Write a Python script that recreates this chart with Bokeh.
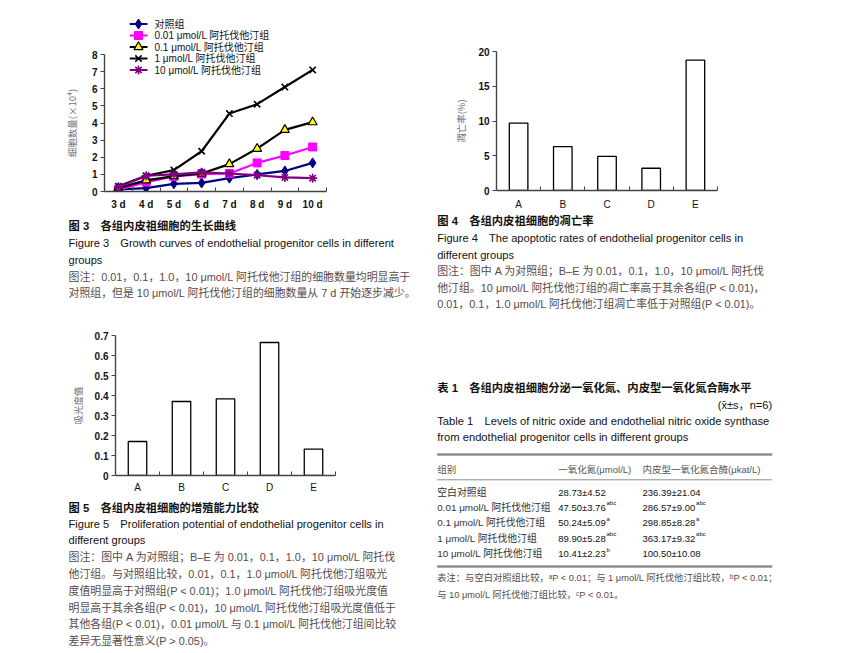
from bokeh.plotting import figure
from bokeh.models import (Range1d, FixedTicker, CustomJSTickFormatter, NumeralTickFormatter)
from bokeh.core.properties import value
from bokeh.embed import file_html
from bokeh.resources import INLINE

FONT = "'Liberation Sans', 'Noto Sans CJK SC', sans-serif"
CJK = "'Noto Sans CJK SC', sans-serif"

# ---------------- data ----------------
days = ["3 d", "4 d", "5 d", "6 d", "7 d", "8 d", "9 d", "10 d"]
growth_names = ["对照组", "0.01 μmol/L 阿托伐他汀组", "0.1 μmol/L 阿托伐他汀组",
                "1 μmol/L 阿托伐他汀组", "10 μmol/L 阿托伐他汀组"]
growth_control = [0.12, 0.2, 0.45, 0.5, 0.78, 1.0, 1.2, 1.67]
growth_001 = [0.1, 0.55, 0.88, 1.02, 1.05, 1.67, 2.1, 2.6]
growth_01 = [0.2, 0.65, 0.9, 1.05, 1.6, 2.5, 3.6, 4.05]
growth_1 = [0.3, 0.92, 1.25, 2.35, 4.55, 5.1, 6.1, 7.1]
growth_10 = [0.25, 0.92, 1.0, 1.12, 1.05, 0.95, 0.82, 0.78]
growth_ticks = [0, 1, 2, 3, 4, 5, 6, 7, 8]

groups = ["A", "B", "C", "D", "E"]
apoptosis = [9.7, 6.3, 4.9, 3.2, 18.75]
apoptosis_ticks = [0, 5, 10, 15, 20]
absorbance = [0.17, 0.37, 0.383, 0.665, 0.132]
absorbance_ticks = [0, 0.1, 0.2, 0.3, 0.4, 0.5, 0.6, 0.7]

table_groups = ["空白对照组", "0.01 μmol/L 阿托伐他汀组", "0.1 μmol/L 阿托伐他汀组",
                "1 μmol/L 阿托伐他汀组", "10 μmol/L 阿托伐他汀组"]
no_vals = ["28.73±4.52", "47.50±3.76", "50.24±5.09", "89.90±5.28", "10.41±2.23"]
no_sup = ["", "abc", "a", "abc", "b"]
enos_vals = ["236.39±21.04", "286.57±9.00", "298.85±8.28", "363.17±9.32", "100.50±10.08"]
enos_sup = ["", "abc", "a", "abc", ""]

AXIS_COLOR = "#444444"
NOTE_COLOR = "#574b4b"
EN = "11.1px"     # English caption lines
MIX = "10.9px"    # mixed Chinese/Latin note lines
HEAD = "11.3px"   # bold Chinese headings


def place(p, x, y):
    p.styles = {"position": "absolute", "left": f"{x}px", "top": f"{y}px"}


def style_axes(p, labels, ylabel, ystand, xstand, yticks):
    n = len(labels)
    p.xaxis.ticker = FixedTicker(ticks=[i + 0.5 for i in range(n)],
                                 minor_ticks=[i + 1 for i in range(n)])
    p.xaxis.formatter = CustomJSTickFormatter(args=dict(labels=labels),
                                              code="return labels[Math.floor(tick)] || ''")
    p.xaxis.major_tick_in = 0
    p.xaxis.major_tick_out = 0
    p.xaxis.major_tick_line_color = None
    p.xaxis.minor_tick_in = 4
    p.xaxis.minor_tick_out = 0
    p.xaxis.minor_tick_line_color = AXIS_COLOR
    p.xaxis.major_label_standoff = xstand
    p.yaxis.ticker = FixedTicker(ticks=yticks)
    p.yaxis.major_tick_in = 0
    p.yaxis.major_tick_out = 4
    p.yaxis.minor_tick_line_color = None
    p.yaxis.major_tick_line_color = AXIS_COLOR
    p.yaxis.major_label_standoff = 3
    p.yaxis.axis_label = ylabel
    p.yaxis.axis_label_standoff = ystand
    p.yaxis.axis_label_text_font = CJK
    p.yaxis.axis_label_text_font_style = "normal"
    p.yaxis.axis_label_text_font_size = "9.5px"
    p.yaxis.axis_label_text_color = "#6e6e7c"
    for ax in (p.xaxis, p.yaxis):
        ax.axis_line_color = AXIS_COLOR
        ax.axis_line_width = 1.4
        ax.major_label_text_font = FONT
        ax.major_label_text_font_size = "10px"
        ax.major_label_text_color = "#111111"
    p.yaxis.major_label_text_font_style = "bold"
    p.grid.visible = False
    p.outline_line_color = None


# ---------------- Figure 3: growth curves ----------------
f3 = figure(width=422, height=204, x_range=Range1d(0, len(days)), y_range=Range1d(0, 8),
            output_backend="svg", toolbar_location=None,
            min_border_left=96, min_border_right=104, min_border_top=46, min_border_bottom=21)
style_axes(f3, days, "细胞数量(×10⁴)", 10, 7, growth_ticks)
f3.xaxis.major_label_text_font_style = "bold"

xs = [i + 0.5 for i in range(len(days))]
line_colors = ["#000080", "#ff00ff", "#000000", "#000000", "#800080"]
marker_styles = [
    dict(marker="diamond", size=10, fill_color="#000080", line_color="#000080"),
    dict(marker="square", size=8, fill_color="#ff00ff", line_color="#ff00ff"),
    dict(marker="triangle", size=9, fill_color="#ffff00", line_color="#000000", line_width=1.2),
    dict(marker="x", size=9, line_color="#000000", line_width=1.6),
    dict(marker="asterisk", size=9, line_color="#800080", line_width=1.6),
]
growth_series = [growth_control, growth_001, growth_01, growth_1, growth_10]
for vals, col, mk in zip(growth_series, line_colors, marker_styles):
    f3.line(xs, vals, line_color=col, line_width=2.2)
    f3.scatter(xs, vals, **mk)
place(f3, 8, 8)

# Legend key panel laid over the top of Figure 3 (the reference legend
# extends above the plotting frame). Transparent, drawn in its own pixel space.
LG_W, LG_H, ROW = 155, 63, 11.5
lg = figure(width=LG_W, height=LG_H, x_range=Range1d(0, LG_W), y_range=Range1d(LG_H, 0),
            output_backend="svg", toolbar_location=None, min_border=0,
            x_axis_location=None, y_axis_location=None,
            background_fill_alpha=0, border_fill_alpha=0)
lg.grid.visible = False
lg.outline_line_color = None
for i, (name, col, mk) in enumerate(zip(growth_names, line_colors, marker_styles)):
    yy = 7.5 + ROW * i
    lg.line([0, 18], [yy, yy], line_color=col, line_width=2.2)
    lg.scatter([9], [yy], **mk)
    lg.text(x=[25], y=[yy], text=[name], text_font=value(FONT), text_font_size="10px",
            text_color="#111111", text_baseline="middle", text_align="left")
place(lg, 129, 15.5)


# ---------------- Figure 4: apoptosis ----------------
f4 = figure(width=405, height=204, x_range=Range1d(0, len(groups)), y_range=Range1d(0, 20),
            output_backend="svg", toolbar_location=None,
            min_border_left=66, min_border_right=118, min_border_top=43, min_border_bottom=22)
style_axes(f4, groups, "凋亡率(%)", 7, 8, apoptosis_ticks)
f4.vbar(x=[i + 0.5 for i in range(len(groups))], top=apoptosis, width=0.42,
        fill_color="white", line_color="black", line_width=1.3)
place(f4, 430, 8)


# ---------------- Figure 5: absorbance ----------------
f5 = figure(width=422, height=174, x_range=Range1d(0, len(groups)), y_range=Range1d(0, 0.7),
            output_backend="svg", toolbar_location=None,
            min_border_left=107, min_border_right=95, min_border_top=13, min_border_bottom=21)
style_axes(f5, groups, "吸光度值", 7, 6, absorbance_ticks)
f5.yaxis.formatter = NumeralTickFormatter(format="0.[0]")
f5.vbar(x=[i + 0.5 for i in range(len(groups))], top=absorbance, width=0.42,
        fill_color="white", line_color="black", line_width=1.3)
place(f5, 8, 322)


# ---------------- text panels ----------------
def text_panel(w, h):
    p = figure(width=w, height=h, x_range=Range1d(0, w), y_range=Range1d(h, 0),
               output_backend="svg", toolbar_location=None, min_border=0,
               x_axis_location=None, y_axis_location=None)
    p.grid.visible = False
    p.outline_line_color = None
    return p


def put(p, x, y, txt, size=MIX, color="#111111", style="normal", align="left"):
    p.text(x=[x], y=[y], text=[txt], text_font=value(FONT), text_font_size=size,
           text_color=color, text_font_style=style, text_baseline="middle", text_align=align)


t3 = text_panel(422, 110)
put(t3, 60, 13, "图 3　各组内皮祖细胞的生长曲线", size=HEAD, style="bold")
put(t3, 60, 30.3, "Figure 3　Growth curves of endothelial progenitor cells in different", size=EN)
put(t3, 60, 47.3, "groups", size=EN)
put(t3, 60, 64.7, "图注：0.01，0.1，1.0，10 μmol/L 阿托伐他汀组的细胞数量均明显高于", color=NOTE_COLOR)
put(t3, 60, 80.7, "对照组，但是 10 μmol/L 阿托伐他汀组的细胞数量从 7 d 开始逐步减少。", color=NOTE_COLOR)
place(t3, 8, 212)

t5 = text_panel(422, 152)
put(t5, 60, 11.7, "图 5　各组内皮祖细胞的增殖能力比较", size=HEAD, style="bold")
put(t5, 60, 27.3, "Figure 5　Proliferation potential of endothelial progenitor cells in", size=EN)
put(t5, 60, 43.3, "different groups", size=EN)
notes5 = ["图注：图中 A 为对照组；B–E 为 0.01，0.1，1.0，10 μmol/L 阿托伐",
          "他汀组。与对照组比较，0.01，0.1，1.0 μmol/L 阿托伐他汀组吸光",
          "度值明显高于对照组(P < 0.01)；1.0 μmol/L 阿托伐他汀组吸光度值",
          "明显高于其余各组(P < 0.01)，10 μmol/L 阿托伐他汀组吸光度值低于",
          "其他各组(P < 0.01)，0.01 μmol/L 与 0.1 μmol/L 阿托伐他汀组间比较",
          "差异无显著性意义(P > 0.05)。"]
for i, s in enumerate(notes5):
    put(t5, 60, 60.7 + i * 16.8, s, color=NOTE_COLOR)
place(t5, 8, 496)

t4 = text_panel(405, 110)
put(t4, 6.7, 8, "图 4　各组内皮祖细胞的凋亡率", size=HEAD, style="bold")
put(t4, 6.7, 25.3, "Figure 4　The apoptotic rates of endothelial progenitor cells in", size=EN)
put(t4, 6.7, 42.3, "different groups", size=EN)
notes4 = ["图注：图中 A 为对照组；B–E 为 0.01，0.1，1.0，10 μmol/L 阿托伐",
          "他汀组。10 μmol/L 阿托伐他汀组的凋亡率高于其余各组(P < 0.01)，",
          "0.01，0.1，1.0 μmol/L 阿托伐他汀组凋亡率低于对照组(P < 0.01)。"]
for i, s in enumerate(notes4):
    put(t4, 6.7, 58.7 + i * 16.6, s, color=NOTE_COLOR)
place(t4, 430, 212)

tt = text_panel(405, 323)
L, R = 6.7, 341.7
put(tt, L, 65.7, "表 1　各组内皮祖细胞分泌一氧化氮、内皮型一氧化氮合酶水平", size=HEAD, style="bold")
put(tt, R, 82.3, "(x̄±s，n=6)", size=EN, align="right")
put(tt, L, 98, "Table 1　Levels of nitric oxide and endothelial nitric oxide synthase", size="11.2px")
put(tt, L, 114.7, "from endothelial progenitor cells in different groups", size="11.2px")
tt.segment(x0=[L, L, L], y0=[132, 157.3, 244], x1=[R, R, R], y1=[132, 157.3, 244],
           line_color="#8c8c8c", line_width=[2.5, 1, 2.5])
C2, C3 = 127.7, 212
put(tt, L, 147, "组别", size="9.5px", color="#555555")
put(tt, C2, 147, "一氧化氮(μmol/L)", size="9.5px", color="#555555")
put(tt, C3, 147, "内皮型一氧化氮合酶(μkat/L)", size="9.5px", color="#555555")


def num_width(s, fs):
    w = {".": 0.278, "±": 0.584}
    return sum(w.get(c, 0.556) for c in s) * fs


row_y = [169.7, 184.9, 200.3, 215.7, 231.3]
for yy, g, a, asup, b, bsup in zip(row_y, table_groups, no_vals, no_sup, enos_vals, enos_sup):
    put(tt, L, yy, g, size="9.9px", color="#333333")
    put(tt, C2, yy, a, size="9.5px")
    put(tt, C3, yy, b, size="9.5px")
    if asup:
        put(tt, C2 + num_width(a, 9.5) + 0.5, yy - 4, asup, size="6px")
    if bsup:
        put(tt, C3 + num_width(b, 9.5) + 0.5, yy - 4, bsup, size="6px")
put(tt, L, 255.7, "表注：与空白对照组比较，ᵃP < 0.01；与 1 μmol/L 阿托伐他汀组比较，ᵇP < 0.01；",
    size="9.3px", color=NOTE_COLOR)
put(tt, L, 272.3, "与 10 μmol/L 阿托伐他汀组比较，ᶜP < 0.01。", size="9.3px", color=NOTE_COLOR)
place(tt, 430, 322)

roots = [f3, lg, t3, f5, t5, f4, t4, tt]
open("out.html", "w").write(file_html(roots, INLINE))
